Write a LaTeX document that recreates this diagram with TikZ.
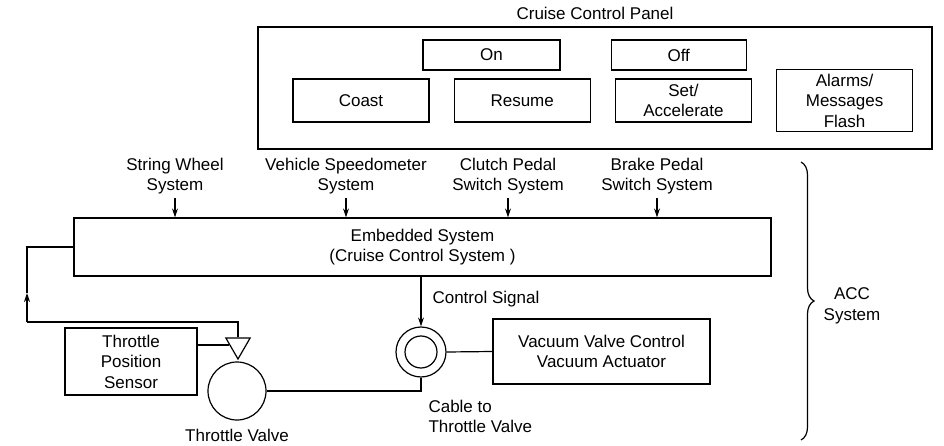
\documentclass[tikz,border=0pt]{standalone}
\usepackage{fontspec}
\setmainfont{Liberation Sans}
\usepackage{tikz}
\usetikzlibrary{shapes.geometric,arrows.meta,positioning,decorations.pathreplacing}

\newcommand{\ccfont}{\fontsize{17}{20.5}\selectfont}

\begin{document}
\begin{tikzpicture}[
  x=1pt, y=-1pt,
  >={Stealth[length=9pt,width=6pt]},
  line width=1.2pt,
  every node/.style={draw, rectangle, align=center, font=\ccfont, line width=1.2pt},
  arrow/.style={->},
  btn/.style={minimum width=136pt, minimum height=43pt},
  lbl/.style={draw=none}
]
\useasboundingbox (0,0) rectangle (944,446);

% CRUISE CONTROL PANEL
\node (panel) [minimum width=674pt, minimum height=122pt] at (595,88) {};
\node (title) [above=3pt of panel, draw=none] {Cruise Control Panel};

\node (on)  [minimum width=137pt, minimum height=30pt] at (491.5,55) {On};
\node (off) [right=50pt of on, minimum width=135pt, minimum height=30pt] {Off};

\node (coast)  [btn] at (361,100.5)        {Coast};
\node (resume) [btn, right=24pt of coast]  {Resume};
\node (setacc) [btn, right=24pt of resume] {Set/\\Accelerate};
\node (alarms) [btn, right=24pt of setacc, minimum height=62pt]
               {Alarms/\\Messages\\Flash};

% EMBEDDED SYSTEM AND ITS INPUTS
\node (embed) [minimum width=697pt, minimum height=58pt] at (422.5,247)
              {Embedded System\\(Cruise Control System )};

\node (steer)  [lbl] at (175,176) {String Wheel\\System};
\node (speedo) [lbl] at (346,176) {Vehicle Speedometer\\System};
\node (clutch) [lbl] at (508,176) {Clutch Pedal\\Switch System};
\node (brake)  [lbl] at (657,176) {Brake Pedal\\Switch System};

% THROTTLE SIDE
\node (tps) [minimum width=132pt, minimum height=67pt] at (131,361.5)
            {Throttle\\Position\\Sensor};
\node (tri) [regular polygon, regular polygon sides=3, shape border rotate=180,
             minimum size=28pt, inner sep=0pt] at (238,345) {};
\node (valve)    [circle, minimum size=58pt] at (237,391) {};
\node (valvelbl) [lbl, below=5pt of valve] {Throttle Valve};

% VACUUM SIDE
\node (dvalve) [circle, minimum size=50pt] at (421,352) {};
\node (dinner) [circle, minimum size=32pt] at (dvalve) {};
\node (vac) [minimum width=217pt, minimum height=65pt] at (601.5,351.5)
            {Vacuum Valve Control\\Vacuum Actuator};
\node (siglbl)   [lbl, anchor=west] at (428.6,299) {Control Signal};
\node (cablelbl) [lbl, anchor=north west, align=left] at (424.6,396)
                 {Cable to\\Throttle Valve};

% ACC BRACE
\coordinate (bracetop) at (801,162);
\coordinate (bracebot) at (801,440);
\node (acc) [lbl] at (852,306) {ACC\\System};

% FEEDBACK LOOP
\coordinate (fbk)   at (27,322);
\coordinate (fbtip) at (27,293);

\draw[arrow] (steer.south)  -- (steer.south |- embed.north);
\draw[arrow] (speedo.south) -- (speedo.south |- embed.north);
\draw[arrow] (clutch.south) -- (clutch.south |- embed.north);
\draw[arrow] (brake.south)  -- (brake.south |- embed.north);
\draw[arrow] (embed.south -| dvalve.north) -- (dvalve.north);
\draw (dvalve.east) -- (vac.west);
\draw (valve.east)  -| (dvalve.south);
\draw (tps.east |- tri.west) -- (tri.west);
\draw (tri.north)   |- (fbk);
\draw[arrow] (fbk)  -- (fbtip);
\draw (fbtip)       |- (embed.west);
\draw[decorate, decoration={brace, amplitude=13pt}] (bracetop) -- (bracebot);
\end{tikzpicture}
\end{document}
